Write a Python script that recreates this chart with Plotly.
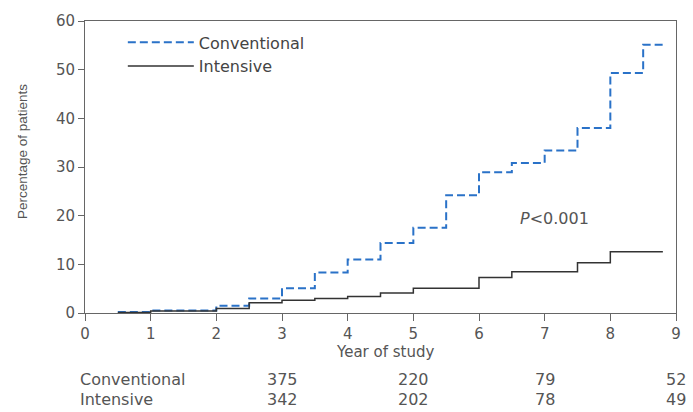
import plotly.graph_objects as go

# ---- data ----
conv_years = [0.5, 1, 2, 2.5, 3, 3.5, 4, 4.5, 5, 5.5, 6, 6.5, 7, 7.5, 8, 8.5, 8.8]
conv_pct = [0.2, 0.5, 1.5, 3.0, 5.1, 8.3, 11.0, 14.4, 17.5, 24.2, 28.9, 30.8, 33.4, 38.0, 49.3, 55.1, 55.1]
int_years = [0.5, 1, 2, 2.5, 3, 3.5, 4, 4.5, 5, 6, 6.5, 7.5, 8, 8.8]
int_pct = [0.1, 0.4, 0.9, 2.1, 2.6, 3.0, 3.4, 4.1, 5.1, 7.3, 8.5, 10.3, 12.6, 12.6]

risk_years = [3, 5, 7, 9]
risk_conv = [375, 220, 79, 52]
risk_int = [342, 202, 78, 49]
row_labels = ["Conventional", "Intensive"]

x_ticks = list(range(0, 10))
y_ticks = list(range(0, 61, 10))

FONT = "DejaVu Sans"
GRAY = "#555555"

fig = go.Figure()
fig.add_trace(go.Scatter(
    x=conv_years, y=conv_pct, mode="lines", name="Conventional",
    line=dict(shape="hv", color="#2a72c8", width=2, dash="8px,4px"),
))
fig.add_trace(go.Scatter(
    x=int_years, y=int_pct, mode="lines", name="Intensive",
    line=dict(shape="hv", color="#333333", width=1.5),
))

ann = []
# P value
ann.append(dict(x=6.6, y=19.5, xref="x", yref="y", xanchor="left", yanchor="middle",
                text="<i>P</i><0.001", showarrow=False,
                font=dict(family=FONT, size=16, color=GRAY)))
# axis titles
ann.append(dict(x=-0.1047, y=0.5516, xref="paper", yref="paper", textangle=-90,
                text="Percentage of patients", showarrow=False,
                xanchor="center", yanchor="middle",
                font=dict(family="Liberation Sans", size=13.5, color=GRAY)))
ann.append(dict(x=0.507, y=-0.132, xref="paper", yref="paper",
                text="Year of study", showarrow=False,
                xanchor="center", yanchor="middle",
                font=dict(family=FONT, size=15, color=GRAY)))
# risk table
row_y = [-0.2267, -0.2968]
for lab, ry, vals in zip(row_labels, row_y, [risk_conv, risk_int]):
    ann.append(dict(x=-0.0118, y=ry, xref="paper", yref="paper", text=lab,
                    xanchor="left", yanchor="middle", showarrow=False,
                    font=dict(family=FONT, size=16, color=GRAY)))
    for xv, v in zip(risk_years, vals):
        ann.append(dict(x=xv, y=ry, xref="x", yref="paper", text=str(v),
                        xanchor="center", yanchor="middle", showarrow=False,
                        font=dict(family=FONT, size=16, color=GRAY)))

fig.update_layout(
    width=693, height=412,
    margin=dict(l=85, r=16, t=17, b=99),
    paper_bgcolor="white", plot_bgcolor="white",
    showlegend=True,
    legend=dict(x=0.064, y=0.985, xanchor="left", yanchor="top",
                bgcolor="rgba(0,0,0,0)", itemwidth=66,
                font=dict(family=FONT, size=16, color="#444444"),
                tracegroupgap=0),
    annotations=ann,
    xaxis=dict(range=[0, 9], tickvals=x_ticks, showgrid=False, zeroline=False,
               showline=True, mirror=True, linecolor="#666666", linewidth=1,
               ticks="outside", ticklen=7, tickcolor="#666666",
               tickfont=dict(family=FONT, size=15, color=GRAY)),
    yaxis=dict(range=[0, 60], tickvals=y_ticks, showgrid=False, zeroline=False,
               showline=True, mirror=True, linecolor="#666666", linewidth=1,
               ticks="outside", ticklen=6, tickcolor="#666666",
               tickfont=dict(family=FONT, size=15, color=GRAY)),
)

fig.write_html("out.html")
